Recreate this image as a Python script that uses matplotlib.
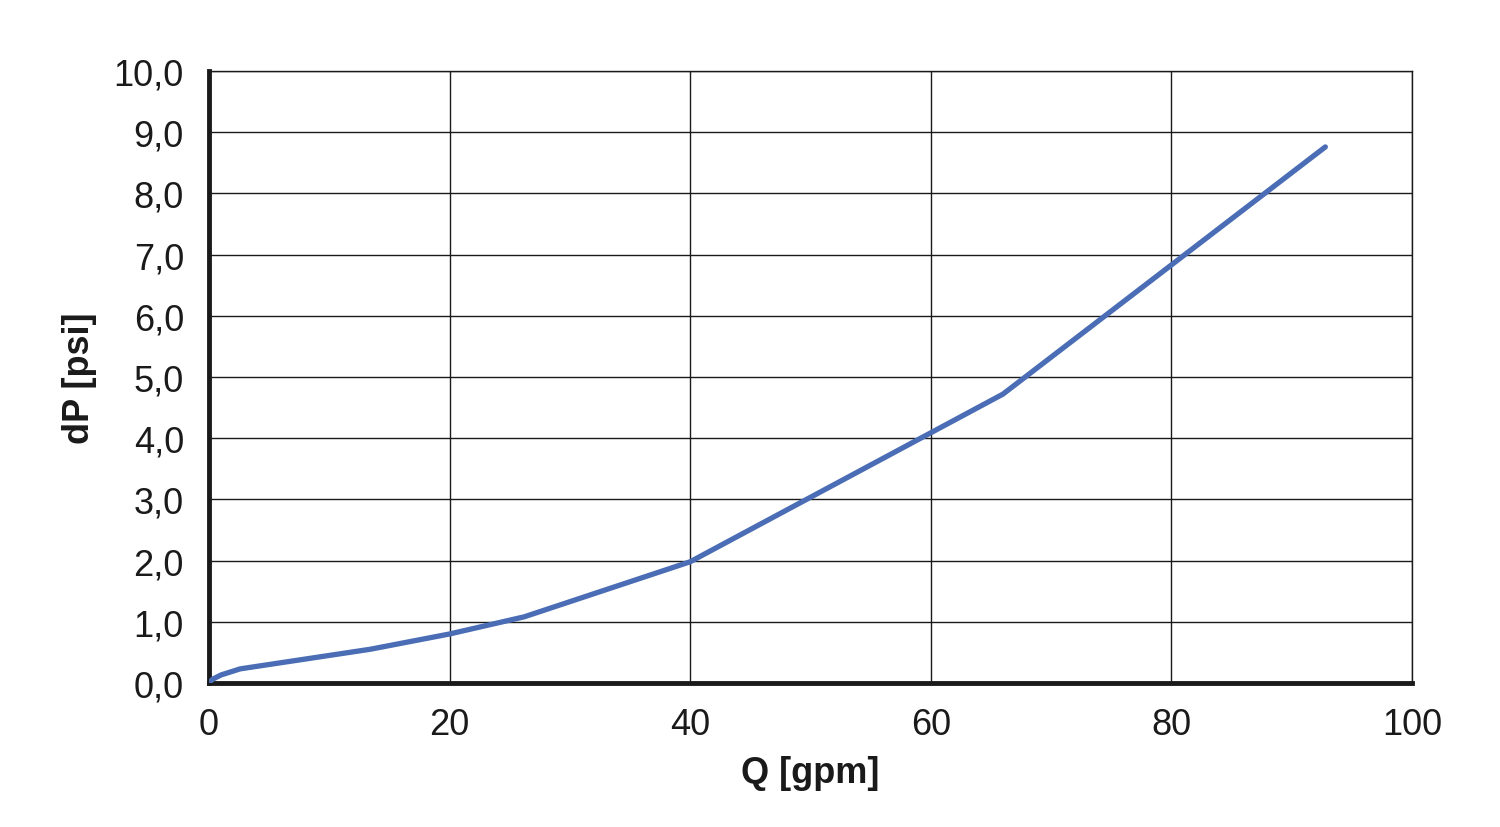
import matplotlib
matplotlib.use("Agg")
import matplotlib.pyplot as plt

q_gpm = [0.0, 0.3, 1.0, 2.6, 13.4, 20.0, 26.2, 40.0, 66.0, 92.8]
dp_psi = [0.0, 0.06, 0.13, 0.23, 0.55, 0.80, 1.08, 1.98, 4.72, 8.76]
x_ticks = [0, 20, 40, 60, 80, 100]
y_ticks = [0, 1, 2, 3, 4, 5, 6, 7, 8, 9, 10]
y_tick_labels = [f"{v:.1f}".replace(".", ",") for v in y_ticks]

plt.rcParams['font.family'] = ['Liberation Sans', 'DejaVu Sans']
fig = plt.figure(figsize=(15, 8.28), dpi=100)
ax = fig.add_axes([0.1393, 0.174, 0.802, 0.739])
ax.plot(q_gpm, dp_psi, color='#4a6db5', lw=3.8, solid_capstyle='round', zorder=3)
ax.set_xlim(0, 100)
ax.set_ylim(0, 10)
ax.set_xticks(x_ticks)
ax.set_yticks(y_ticks)
ax.set_yticklabels(y_tick_labels)
ax.grid(True, color='#1a1a1a', lw=1.0)
ax.tick_params(length=0, labelsize=26, colors='#1a1a1a')
ax.tick_params(axis='y', pad=18)
ax.tick_params(axis='x', pad=17)
for s in ['top', 'right']:
    ax.spines[s].set_linewidth(1.0)
    ax.spines[s].set_color('#1a1a1a')
for s in ['left', 'bottom']:
    ax.spines[s].set_linewidth(3.5)
    ax.spines[s].set_color('#1a1a1a')
ax.set_xlabel('Q [gpm]', fontsize=26, fontweight='bold', labelpad=10, color='#1a1a1a')
ax.set_ylabel('dP [psi]', fontsize=26, fontweight='bold', labelpad=12, color='#1a1a1a')
fig.savefig('out.png', dpi=100)
